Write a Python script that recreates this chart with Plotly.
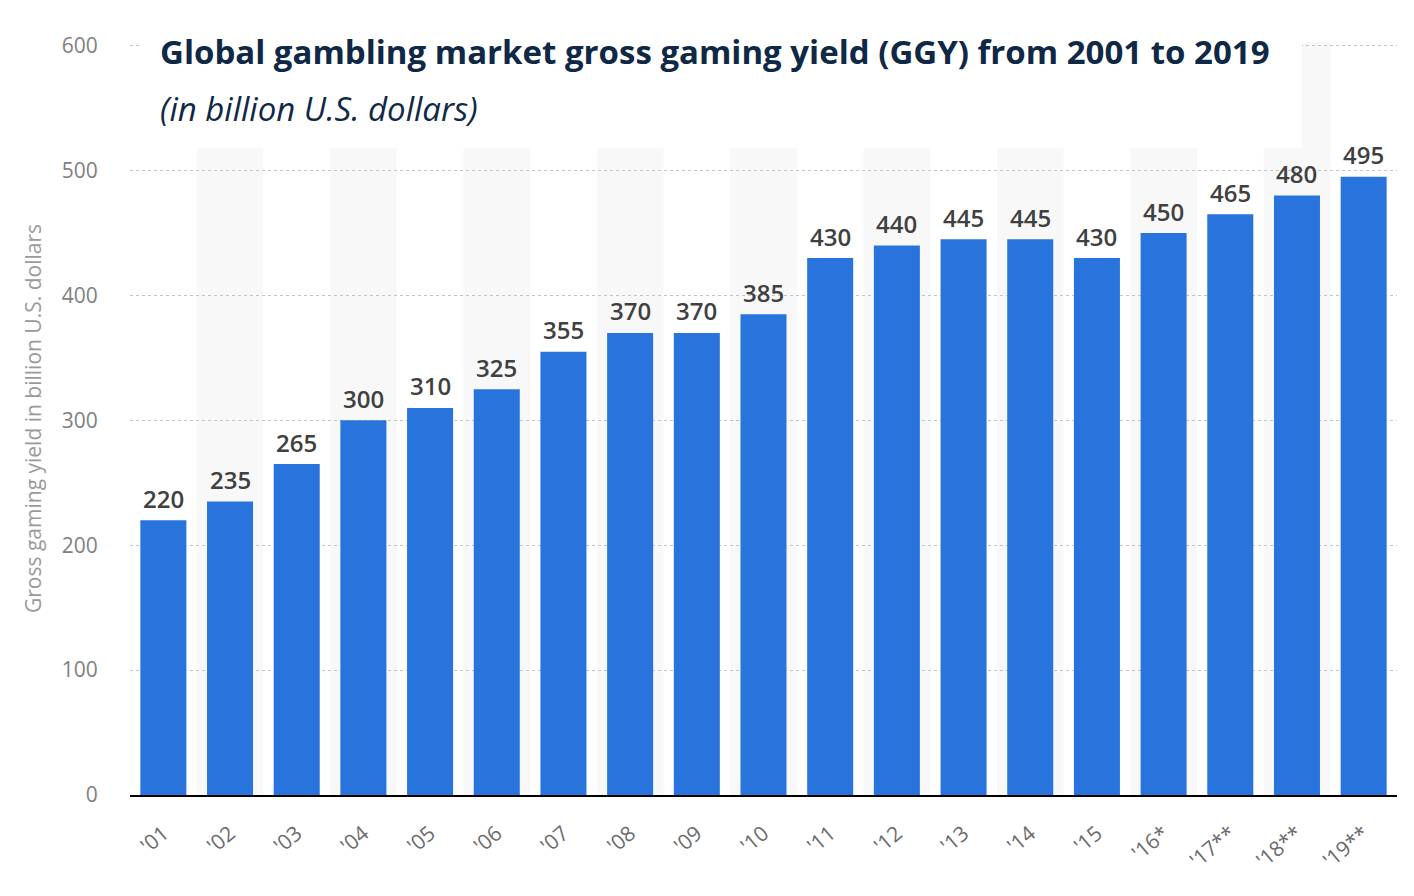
import plotly.graph_objects as go

categories = ["'01", "'02", "'03", "'04", "'05", "'06", "'07", "'08", "'09", "'10",
              "'11", "'12", "'13", "'14", "'15", "'16*", "'17**", "'18**", "'19**"]
values = [220, 235, 265, 300, 310, 325, 355, 370, 370, 385,
          430, 440, 445, 445, 430, 450, 465, 480, 495]
y_ticks = [0, 100, 200, 300, 400, 500, 600]

title_text = "Global gambling market gross gaming yield (GGY) from 2001 to 2019"
subtitle_text = "(in billion U.S. dollars)"
y_title = "Gross gaming yield in billion U.S. dollars"

BAR = "#2874dc"
FONT = "Open Sans"

# page body has an 8px margin; plot area target: x 130..1397, y 42..795
W, H = 1406, 888
L, R, T, B = 122, 17, 34, 101
PW = W - L - R
PH = H - T - B
TOP = 8 + T

fig = go.Figure()
fig.add_trace(go.Bar(
    x=categories, y=values,
    marker=dict(color=BAR, line=dict(width=0)),
    hoverinfo="x+y",
))

annotations = []
for c, v in zip(categories, values):
    annotations.append(dict(
        x=c, y=v, xref="x", yref="y", text=str(v), showarrow=False,
        yanchor="middle", yshift=22,
        font=dict(family=FONT, size=24, color="#404040", weight=600),
    ))

shapes = []
for i, c in enumerate(categories):
    if i % 2 == 1:
        shapes.append(dict(type="rect", xref="x", yref="y",
                           x0=i - 0.5, x1=i + 0.5, y0=0, y1=603,
                           fillcolor="#f8f8f8", line=dict(width=0), layer="below"))
# white box behind title
shapes.append(dict(type="rect", xref="paper", yref="paper",
                   x0=10 / PW, x1=1172 / PW, y0=(795 - 148) / PH, y1=1.03,
                   fillcolor="white", line=dict(width=0), layer="above"))

annotations += [
    dict(text="<b>" + title_text + "</b>", xref="paper", yref="paper",
         x=28 / PW, y=1 - (52 - TOP) / PH, xanchor="left", yanchor="middle",
         showarrow=False, font=dict(family=FONT, size=33, color="#0f2846")),
    dict(text="<i>" + subtitle_text + "</i>", xref="paper", yref="paper",
         x=28 / PW, y=1 - (108 - TOP) / PH, xanchor="left", yanchor="middle",
         showarrow=False, font=dict(family=FONT, size=33, color="#0f2846")),
]

fig.update_layout(
    width=W, height=H,
    margin=dict(l=L, r=R, t=T, b=B),
    paper_bgcolor="white", plot_bgcolor="white",
    showlegend=False,
    bargap=0.31,
    shapes=shapes,
    annotations=annotations,
    font=dict(family=FONT),
    xaxis=dict(
        type="category",
        range=[-0.5, len(categories) - 0.5],
        tickangle=-40,
        tickfont=dict(family=FONT, size=21, color="#6b6b6b"),
        showgrid=False,
        showline=True, linecolor="#000000", linewidth=2,
        ticks="outside", ticklen=16, tickcolor="rgba(0,0,0,0)",
    ),
    yaxis=dict(
        range=[0, 603],
        tickvals=y_ticks,
        tickfont=dict(family=FONT, size=21, color="#7f7f7f"),
        showgrid=True, gridcolor="#c4c4c4", griddash="dot", gridwidth=1,
        zeroline=False, showline=False,
        ticks="outside", ticklen=27, tickcolor="rgba(0,0,0,0)",
        title=dict(text=y_title, font=dict(family=FONT, size=21, color="#9a9a9a"), standoff=14),
    ),
)

fig.write_html("out.html")
